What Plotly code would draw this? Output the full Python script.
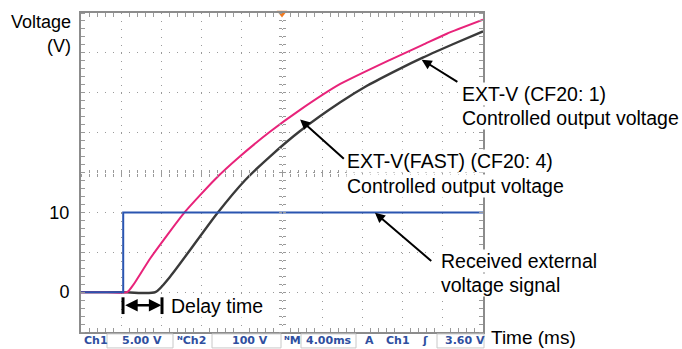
import plotly.graph_objects as go

# scope screen: 10 div x 8 div, 4 ms/div, Ch1 5 V/div, Ch2 100 V/div
CH1_V_PER_DIV = 5.0
CH2_V_PER_DIV = 100.0

# received external voltage signal (Ch1, V)
sig_t = [0.0, 4.2, 4.2, 40.0]
sig_v = [0.0, 0.0, 10.0, 10.0]

# EXT-V(FAST) (CF20: 4) controlled output voltage (Ch2, V)
fast_t = [0.0, 2.0, 4.6, 5.2, 6.9, 10.3, 13.3, 15.8, 18.8, 21.8, 25.8, 30.7, 34.0, 36.4, 40.0]
fast_v = [0, 0, 0, 18, 85, 200, 282, 340, 402, 457, 522, 582, 620, 648, 683]

# EXT-V (CF20: 1) controlled output voltage (Ch2, V)
ext_t = [0.0, 4.0, 7.4, 8.9, 13.5, 16.3, 18.8, 21.8, 25.8, 28.5, 31.7, 34.0, 37.4, 40.0]
ext_v = [0, 0, 0, 40, 196, 280, 340, 404, 476, 518, 560, 588, 626, 654]

trig_t = 20.0  # trigger position marker

# y labels on the left (Ch1 scale)
ytick_div = [-1, 0, 1, 2, 3, 4, 5, 6, 7]
ytick_txt = ['', '0', '', '10', '', '', '', '', '']

BLUE = '#2a55b0'
PINK = '#e8237a'
DARK = '#3a3a3a'
GRID = '#9a9a9a'
STAT = '#2f4f9f'
FONT = 'Liberation Sans, Arial, sans-serif'
LBL = 19.5

fig = go.Figure()
fig.add_trace(go.Scatter(x=ext_t, y=[v / CH2_V_PER_DIV for v in ext_v], mode='lines',
                         line=dict(color=DARK, width=2.4, shape='spline', smoothing=0.6)))
fig.add_trace(go.Scatter(x=fast_t, y=[v / CH2_V_PER_DIV for v in fast_v], mode='lines',
                         line=dict(color=PINK, width=2, shape='spline', smoothing=0.5)))
fig.add_trace(go.Scatter(x=sig_t, y=[v / CH1_V_PER_DIV for v in sig_v], mode='lines',
                         line=dict(color=BLUE, width=2)))
fig.add_trace(go.Scatter(x=[trig_t], y=[7], mode='markers', cliponaxis=False,
                         marker=dict(symbol='triangle-down', size=9, color='#f07a20')))

# dummy traces so the centre-line tick axes get drawn
for xa, ya in [('x2', 'y'), ('x3', 'y'), ('x', 'y2'), ('x', 'y3')]:
    fig.add_trace(go.Scatter(x=[None], y=[None], xaxis=xa, yaxis=ya, hoverinfo='skip'))

center_tick = dict(showgrid=False, showticklabels=False, showline=False, zeroline=False,
                   ticklen=3, tickcolor=GRID, tickwidth=1)

fig.update_layout(
    width=682, height=349,
    margin=dict(l=81, r=199, t=11, b=17),
    plot_bgcolor='white', paper_bgcolor='white',
    showlegend=False,
    font=dict(family=FONT, size=18, color='black'),
    xaxis=dict(range=[0, 40], dtick=4, showgrid=True, griddash='1px,7px', gridcolor=GRID,
               gridwidth=1, showline=True, linecolor='#8c8c8c', linewidth=2, mirror='allticks',
               ticks='', showticklabels=False, zeroline=False,
               minor=dict(ticks='inside', ticklen=4, dtick=0.8, tickcolor=GRID, showgrid=False)),
    yaxis=dict(range=[-1, 7], tickvals=ytick_div, ticktext=ytick_txt, showgrid=True,
               griddash='1px,7px', gridcolor=GRID, gridwidth=1, showline=True,
               linecolor='#8c8c8c', linewidth=2, mirror='allticks', ticks='', zeroline=False,
               ticklabelstandoff=6, tickfont=dict(size=18),
               minor=dict(ticks='inside', ticklen=4, dtick=0.2, tickcolor=GRID, showgrid=False)),
    xaxis2=dict(overlaying='x', anchor='free', position=0.5, range=[0, 40], dtick=0.8,
                ticks='outside', **center_tick),
    xaxis3=dict(overlaying='x', anchor='free', position=0.5, range=[0, 40], dtick=0.8,
                ticks='inside', **center_tick),
    yaxis2=dict(overlaying='y', anchor='free', position=0.5, range=[-1, 7], dtick=0.2,
                ticks='outside', **center_tick),
    yaxis3=dict(overlaying='y', anchor='free', position=0.5, range=[-1, 7], dtick=0.2,
                ticks='inside', **center_tick),
)

# labels with leader arrows
def label(text, x, y):
    fig.add_annotation(text=text, x=x, y=y, xref='x', yref='y', xanchor='left', yanchor='middle',
                       showarrow=False, bgcolor='white', borderpad=0, font=dict(size=LBL))

def arrow(x, y, ax, ay):
    fig.add_annotation(text='', x=x, y=y, ax=ax, ay=ay, xref='x', yref='y', axref='x', ayref='y',
                       showarrow=True, arrowhead=2, arrowsize=1, arrowwidth=2, arrowcolor='black')

label('EXT-V (CF20: 1)', 37.8, 4.98)
label('Controlled output voltage', 37.8, 4.36)
label('EXT-V(FAST) (CF20: 4)', 26.4, 3.29)
label('Controlled output voltage', 26.4, 2.66)
label('Received external', 35.7, 0.79)
label('voltage signal', 35.7, 0.17)
label('Delay time', 8.9, -0.35)

arrow(33.9, 5.83, 37.6, 5.25)
arrow(21.8, 4.33, 26.3, 3.31)
arrow(29.25, 1.99, 35.0, 0.75)

# delay time double arrow |<->|
fig.add_annotation(text='', x=8.0, y=-0.33, ax=4.25, ay=-0.33, xref='x', yref='y', axref='x',
                   ayref='y', showarrow=True, arrowhead=2, arrowside='end+start', arrowsize=1,
                   arrowwidth=2.5, arrowcolor='black')
for xb in [4.18, 8.06]:
    fig.add_shape(type='line', x0=xb, x1=xb, y0=-0.13, y1=-0.55, xref='x', yref='y',
                  line=dict(color='black', width=3))

# axis titles
fig.add_annotation(text='Voltage', x=-0.02, y=0.972, xref='paper', yref='paper',
                   xanchor='right', yanchor='middle', showarrow=False, font=dict(size=18))
fig.add_annotation(text='(V)', x=-0.02, y=0.897, xref='paper', yref='paper',
                   xanchor='right', yanchor='middle', showarrow=False, font=dict(size=18))
fig.add_annotation(text='Time (ms)', x=1.015, y=-0.018, xref='paper', yref='paper',
                   xanchor='left', yanchor='middle', showarrow=False, font=dict(size=19))

# scope status bar
status = [('Ch1', 82), ('5.00 V', 120), ('ᴺCh2', 175), ('100 V', 230), ('ᴺM', 282),
          ('4.00ms', 304), ('A', 363), ('Ch1', 384), ('ʃ', 420), ('3.60 V', 443)]
for txt, px in status:
    fig.add_annotation(text='<b>' + txt + '</b>', x=(px - 81) / 402, y=-0.026, xref='paper',
                       yref='paper', xanchor='left', yanchor='middle', showarrow=False,
                       font=dict(family='DejaVu Sans, Verdana, sans-serif', size=11, color=STAT))
for x0, x1 in [(107, 173), (212, 281), (301, 356), (437, 484)]:
    fig.add_shape(type='rect', xref='paper', yref='paper', x0=(x0 - 81) / 402, x1=(x1 - 81) / 402,
                  y0=-0.006, y1=-0.05, line=dict(color='#c8c8c8', width=1))

fig.write_html('out.html', config={'displayModeBar': False},
               post_script="document.body.style.margin='0';document.body.style.overflow='hidden';")
